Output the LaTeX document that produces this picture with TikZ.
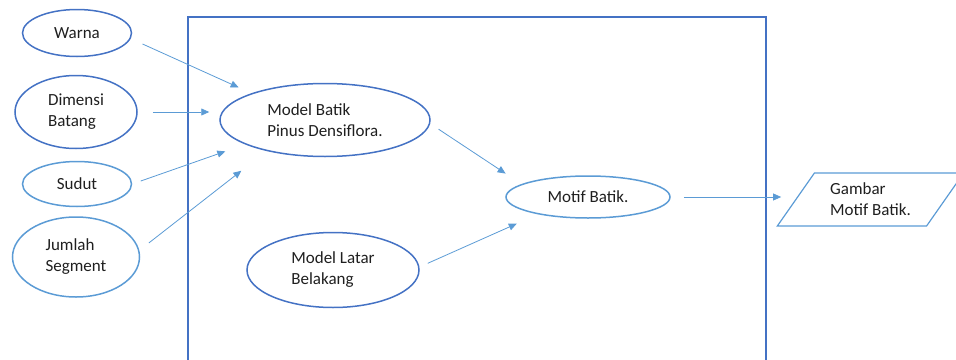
\documentclass[tikz,border=0pt]{standalone}
\usepackage{fontspec}
\setmainfont{Carlito}
\usepackage{xcolor}
\usepackage{tikz}
\usetikzlibrary{shapes.geometric}
\usetikzlibrary{arrows.meta}
\definecolor{darkblue}{HTML}{4472C4}
\definecolor{lightblue}{HTML}{5B9BD5}

\begin{document}
\begin{tikzpicture}[x=1pt,y=-1pt,
  every node/.style={font=\fontsize{17}{21}\selectfont,text=black!88},
  inbox/.style={ellipse,draw=lightblue,line width=1.5pt,inner sep=0pt,align=left},
  modbox/.style={ellipse,draw=darkblue,line width=1.5pt,inner sep=0pt,align=left},
  link/.style={draw=lightblue,line width=0.8pt,-{Triangle[length=8pt,width=7pt]}}]
\clip (0,0) rectangle (956,359);
\draw[darkblue,line width=2pt] (188,17) rectangle (766,380);

\node[modbox,minimum width=109pt,minimum height=47pt] (warna) at (77,33) {Warna};
\node[modbox,minimum width=122pt,minimum height=73pt] (dimensi) at (76,112) {Dimensi\\Batang};
\node[inbox,minimum width=109pt,minimum height=45pt] (sudut) at (77,184) {Sudut};
\node[inbox,minimum width=127pt,minimum height=80pt] (jumlah) at (76,257) {Jumlah\\Segment};

\node[modbox,minimum width=210pt,minimum height=73pt] (batik) at (325,120) {Model Batik\\Pinus Densiflora.};
\node[modbox,minimum width=172pt,minimum height=75pt] (latar) at (333,270) {Model Latar\\Belakang};
\node[inbox,minimum width=164pt,minimum height=42pt] (motif) at (588,197) {Motif Batik.};
\node[trapezium,trapezium left angle=55,trapezium right angle=125,draw=lightblue,line width=1.2pt,
  minimum height=53pt,inner xsep=-5.5pt,inner ysep=0pt,align=left] (gambar) at (870.5,199.5) {Gambar\\Motif Batik.};

\draw[link,shorten <=13pt,shorten >=14pt] (warna.-6) -- (batik.160);
\draw[link,shorten <=15pt,shorten >=10pt] (dimensi.east) -- (dimensi.east -| batik.west);
\draw[link,shorten <=9pt,shorten >=21pt] (sudut.east) -- (batik.197);
\draw[link,shorten <=12pt,shorten >=32pt] (jumlah.6) -- (batik.208);
\draw[link,shorten <=10pt,shorten >=19pt] (batik.-2) -- (motif.169);
\draw[link,shorten <=9pt,shorten >=23pt] (latar.2) -- (motif.199);
\draw[link,shorten <=13pt,shorten >=14pt] (motif.east) -- (motif.east -| gambar.west);
\end{tikzpicture}
\end{document}
